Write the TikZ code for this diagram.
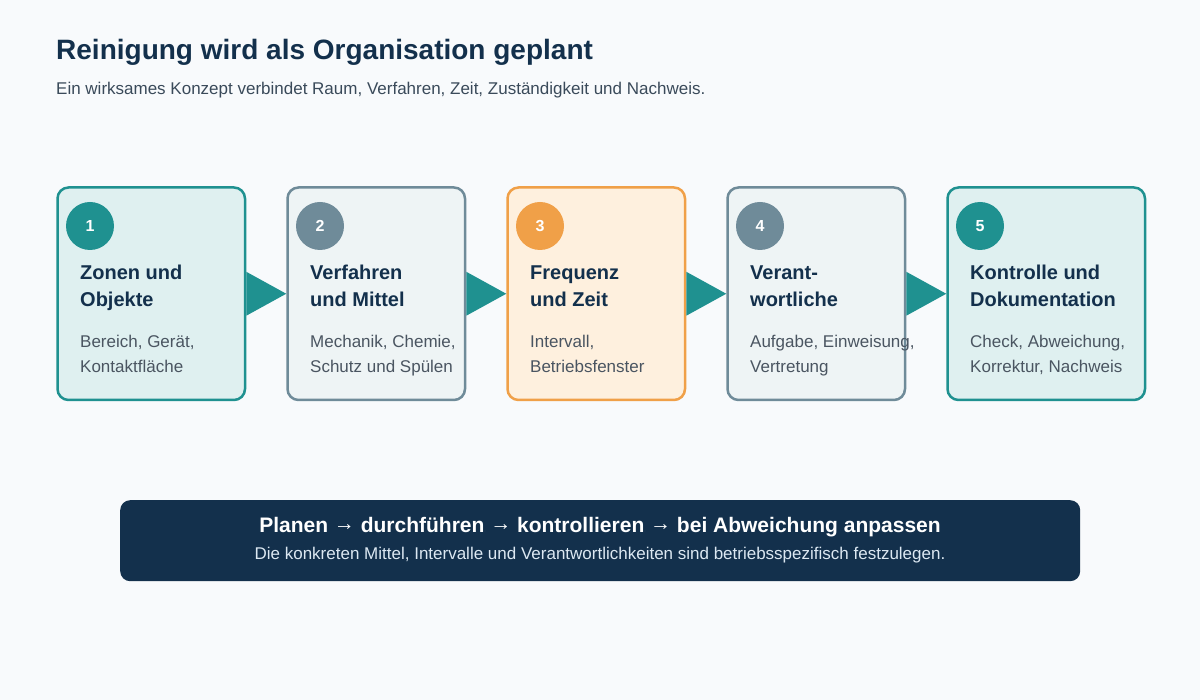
\documentclass[tikz,border=0pt]{standalone}
\usepackage{fontspec}
\setmainfont{Liberation Sans}
\definecolor{bg}{HTML}{F8FAFC}
\definecolor{navy}{HTML}{13304C}
\definecolor{tealc}{HTML}{1F9190}
\definecolor{tealf}{HTML}{DFF0F0}
\definecolor{grayc}{HTML}{6F8B99}
\definecolor{grayf}{HTML}{EEF4F5}
\definecolor{orc}{HTML}{F0A048}
\definecolor{orf}{HTML}{FEF0DE}
\definecolor{desc}{HTML}{4A5561}
\definecolor{sub}{HTML}{3A4A5A}
\definecolor{light}{HTML}{DCE8F2}
\newcommand\rarr{\raisebox{1.5pt}{→}}
\tikzset{
  card/.style={draw, line width=2.5pt, rounded corners=11pt, minimum height=212.5pt, inner sep=0pt, anchor=north west},
  cteal/.style={card, draw=tealc, fill=tealf},
  cgray/.style={card, draw=grayc, fill=grayf},
  corange/.style={card, draw=orc, fill=orf},
  badge/.style={circle, minimum size=48pt, inner sep=0pt, text=white, font=\bfseries\fontsize{16}{16}\selectfont},
  ttl/.style={anchor=base west, inner sep=0pt, text=navy, font=\bfseries\fontsize{20}{20}\selectfont},
  dsc/.style={anchor=base west, inner sep=0pt, text=desc, font=\fontsize{17}{17}\selectfont},
  tri/.style={fill=tealc},
}
\begin{document}
\begin{tikzpicture}[x=1pt,y=-1pt]
\fill[bg] (0,0) rectangle (1200,700);
\useasboundingbox (0,0) rectangle (1200,700);
\node[anchor=base west, inner sep=0pt, text=navy, font=\bfseries\fontsize{28}{28}\selectfont] (title) at (56,60) {Reinigung wird als Organisation geplant};
\node[anchor=base west, inner sep=0pt, text=sub, font=\fontsize{17}{17}\selectfont] (subtitle) at (56,95) {Ein wirksames Konzept verbindet Raum, Verfahren, Zeit, Zuständigkeit und Nachweis.};

% cards
\node[cteal, minimum width=187.5pt] (b1) at (56.25,186.25) {};
\node[cgray, minimum width=177.5pt] (b2) at (286.25,186.25) {};
\node[corange, minimum width=177.5pt] (b3) at (506.25,186.25) {};
\node[cgray, minimum width=177.5pt] (b4) at (726.25,186.25) {};
\node[cteal, minimum width=197.5pt] (b5) at (946.25,186.25) {};

% arrows
\fill[tri] ([yshift=22pt]b1.east) -- (b2.west) -- ([yshift=-22pt]b1.east) -- cycle;
\fill[tri] ([yshift=22pt]b2.east) -- (b3.west) -- ([yshift=-22pt]b2.east) -- cycle;
\fill[tri] ([yshift=22pt]b3.east) -- (b4.west) -- ([yshift=-22pt]b3.east) -- cycle;
\fill[tri] ([yshift=22pt]b4.east) -- (b5.west) -- ([yshift=-22pt]b4.east) -- cycle;

% badges
\node[badge, fill=tealc] (n1) at (90,226) {1};
\node[badge, fill=grayc] (n2) at (320,226) {2};
\node[badge, fill=orc] (n3) at (540,226) {3};
\node[badge, fill=grayc] (n4) at (760,226) {4};
\node[badge, fill=tealc] (n5) at (980,226) {5};

% titles
\node[ttl] (t1a) at (80,280) {Zonen und};
\node[ttl] (t1b) at (80,307) {Objekte};
\node[ttl] (t2a) at (310,280) {Verfahren};
\node[ttl] (t2b) at (310,307) {und Mittel};
\node[ttl] (t3a) at (530,280) {Frequenz};
\node[ttl] (t3b) at (530,307) {und Zeit};
\node[ttl] (t4a) at (750,280) {Verant-};
\node[ttl] (t4b) at (750,307) {wortliche};
\node[ttl] (t5a) at (970,280) {Kontrolle und};
\node[ttl] (t5b) at (970,307) {Dokumentation};

% descriptions
\node[dsc] (d1a) at (80,348) {Bereich, Gerät,};
\node[dsc] (d1b) at (80,373) {Kontaktfläche};
\node[dsc] (d2a) at (310,348) {Mechanik, Chemie,};
\node[dsc] (d2b) at (310,373) {Schutz und Spülen};
\node[dsc] (d3a) at (530,348) {Intervall,};
\node[dsc] (d3b) at (530,373) {Betriebsfenster};
\node[dsc] (d4a) at (750,348) {Aufgabe, Einweisung,};
\node[dsc] (d4b) at (750,373) {Vertretung};
\node[dsc] (d5a) at (970,348) {Check, Abweichung,};
\node[dsc] (d5b) at (970,373) {Korrektur, Nachweis};

% bottom banner
\node[fill=navy, rounded corners=10pt, minimum width=960pt, minimum height=81pt, inner sep=0pt, anchor=north west] (banner) at (120,500) {};
\node[anchor=base, inner sep=0pt, text=white, font=\bfseries\fontsize{21}{21}\selectfont] (bl1) at (600,532) {Planen \rarr{} durchführen \rarr{} kontrollieren \rarr{} bei Abweichung anpassen};
\node[anchor=base, inner sep=0pt, text=light, font=\fontsize{17}{17}\selectfont] (bl2) at (600,559) {Die konkreten Mittel, Intervalle und Verantwortlichkeiten sind betriebsspezifisch festzulegen.};
\end{tikzpicture}
\end{document}
